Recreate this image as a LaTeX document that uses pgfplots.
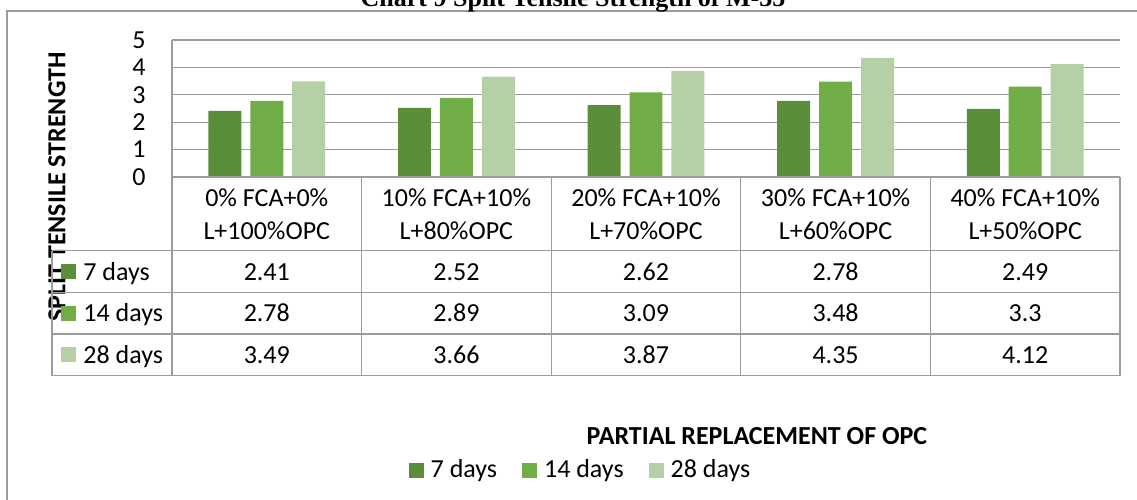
\documentclass[border=0pt]{standalone}
\usepackage{pgfplots}
\pgfplotsset{compat=1.18}
\usepackage{pgfplotstable}
\usepackage{fontspec}
\setmainfont{Carlito}
\newfontfamily\titlefont{Liberation Serif}

\definecolor{dGreen}{HTML}{5B8E3A}
\definecolor{mGreen}{HTML}{70AD47}
\definecolor{lGreen}{HTML}{B5CFA7}
\definecolor{lineGray}{HTML}{9C9C9C}

% split tensile strength, M-35 (x = category centre)
\pgfplotstableread{
x   d7   d14  d28
0.5 2.41 2.78 3.49
1.5 2.52 2.89 3.66
2.5 2.62 3.09 3.87
3.5 2.78 3.48 4.35
4.5 2.49 3.30 4.12
}\strengthdata

\newcommand{\tfont}{\fontsize{13}{15.6}\selectfont}

\begin{document}
\begin{tikzpicture}
% pixel grid of the reference: 1px = 0.5pt, y downwards
\begin{scope}[x=0.5pt,y=-0.5pt]
\useasboundingbox (0,0) rectangle (1137,499);
% chart frame (cropped on right and bottom)
\draw[lineGray,line width=0.8pt] (7,600) -- (7,11) -- (1300,11);
% title, cut off by the top edge
\node[anchor=base,font=\titlefont\bfseries\fontsize{13}{15}\selectfont] at (573,6.5)
  {Chart 9 Split Tensile Strength of M-35};
% axis titles
\node[rotate=90,font=\tfont\bfseries] at (57,187) {SPLIT TENSILE STRENGTH};
\node[font=\tfont\bfseries] at (757,436) {PARTIAL REPLACEMENT OF OPC};
\end{scope}

\begin{axis}[
  at={(86pt,-88.5pt)}, anchor=south west,
  scale only axis, width=474pt, height=68.5pt,
  xmin=0, xmax=5, ymin=0, ymax=5,
  ytick={0,1,2,3,4,5}, xtick=\empty,
  ymajorgrids, grid style={lineGray,line width=0.6pt},
  axis x line=none, axis y line*=left,
  axis line style={lineGray,line width=0.6pt,-},
  major tick length=0pt,
  /pgf/number format/assume math mode=true,
  yticklabel style={font=\tfont,inner xsep=0pt,xshift=-13pt},
  ybar, bar width=0.174,
  legend style={at={(axis description cs:0.4335,-2.139)},anchor=center,draw=none,fill=none,
    legend columns=3,font=\tfont,
    nodes={inner xsep=3.5pt},
    /tikz/every even column/.append style={column sep=9pt}},
  legend image code/.code={\fill[#1] (0pt,-3.75pt) rectangle (7.5pt,3.75pt);},
]
\addplot[fill=dGreen,draw=none,bar shift=-0.221] table[x=x,y=d7] {\strengthdata};
\addlegendentry{7 days}
\addplot[fill=mGreen,draw=none,bar shift=0] table[x=x,y=d14] {\strengthdata};
\addlegendentry{14 days}
\addplot[fill=lGreen,draw=none,bar shift=0.221] table[x=x,y=d28] {\strengthdata};
\addlegendentry{28 days}
\end{axis}

\begin{scope}[x=0.5pt,y=-0.5pt]
% data table
\begin{scope}[lineGray,line width=0.6pt]
\draw (172,177) -- (1120,177);
\foreach \yy in {250.7,292.7,334,375.7} \draw (52,\yy) -- (1120,\yy);
\draw (52,250.7) -- (52,375.7);
\foreach \xx in {172,361.6,551.2,740.8,930.4,1120} \draw (\xx,177) -- (\xx,375.7);
\end{scope}

\begin{scope}[every node/.style={font=\tfont,inner sep=0pt}]
\foreach \cx/\la/\lb in {266.8/0\% FCA+0\%/L+100\%OPC,
                         456.4/10\% FCA+10\%/L+80\%OPC,
                         646/20\% FCA+10\%/L+70\%OPC,
                         835.6/30\% FCA+10\%/L+60\%OPC,
                         1025.2/40\% FCA+10\%/L+50\%OPC}{
  \node[anchor=base] at (\cx,206) {\la};
  \node[anchor=base] at (\cx,239) {\lb};
}
\foreach \ry/\col/\lab in {280/dGreen/7 days,321.5/mGreen/14 days,363/lGreen/28 days}{
  \fill[\col] (61,\ry-16) rectangle (76,\ry-1);
  \node[anchor=base west] at (83,\ry) {\lab};
}
\foreach \cx/\va/\vb/\vc in {266.8/2.41/2.78/3.49,
                             456.4/2.52/2.89/3.66,
                             646/2.62/3.09/3.87,
                             835.6/2.78/3.48/4.35,
                             1025.2/2.49/3.3/4.12}{
  \node[anchor=base] at (\cx,280) {\va};
  \node[anchor=base] at (\cx,321.5) {\vb};
  \node[anchor=base] at (\cx,363) {\vc};
}
\end{scope}
\end{scope}
\end{tikzpicture}
\end{document}
